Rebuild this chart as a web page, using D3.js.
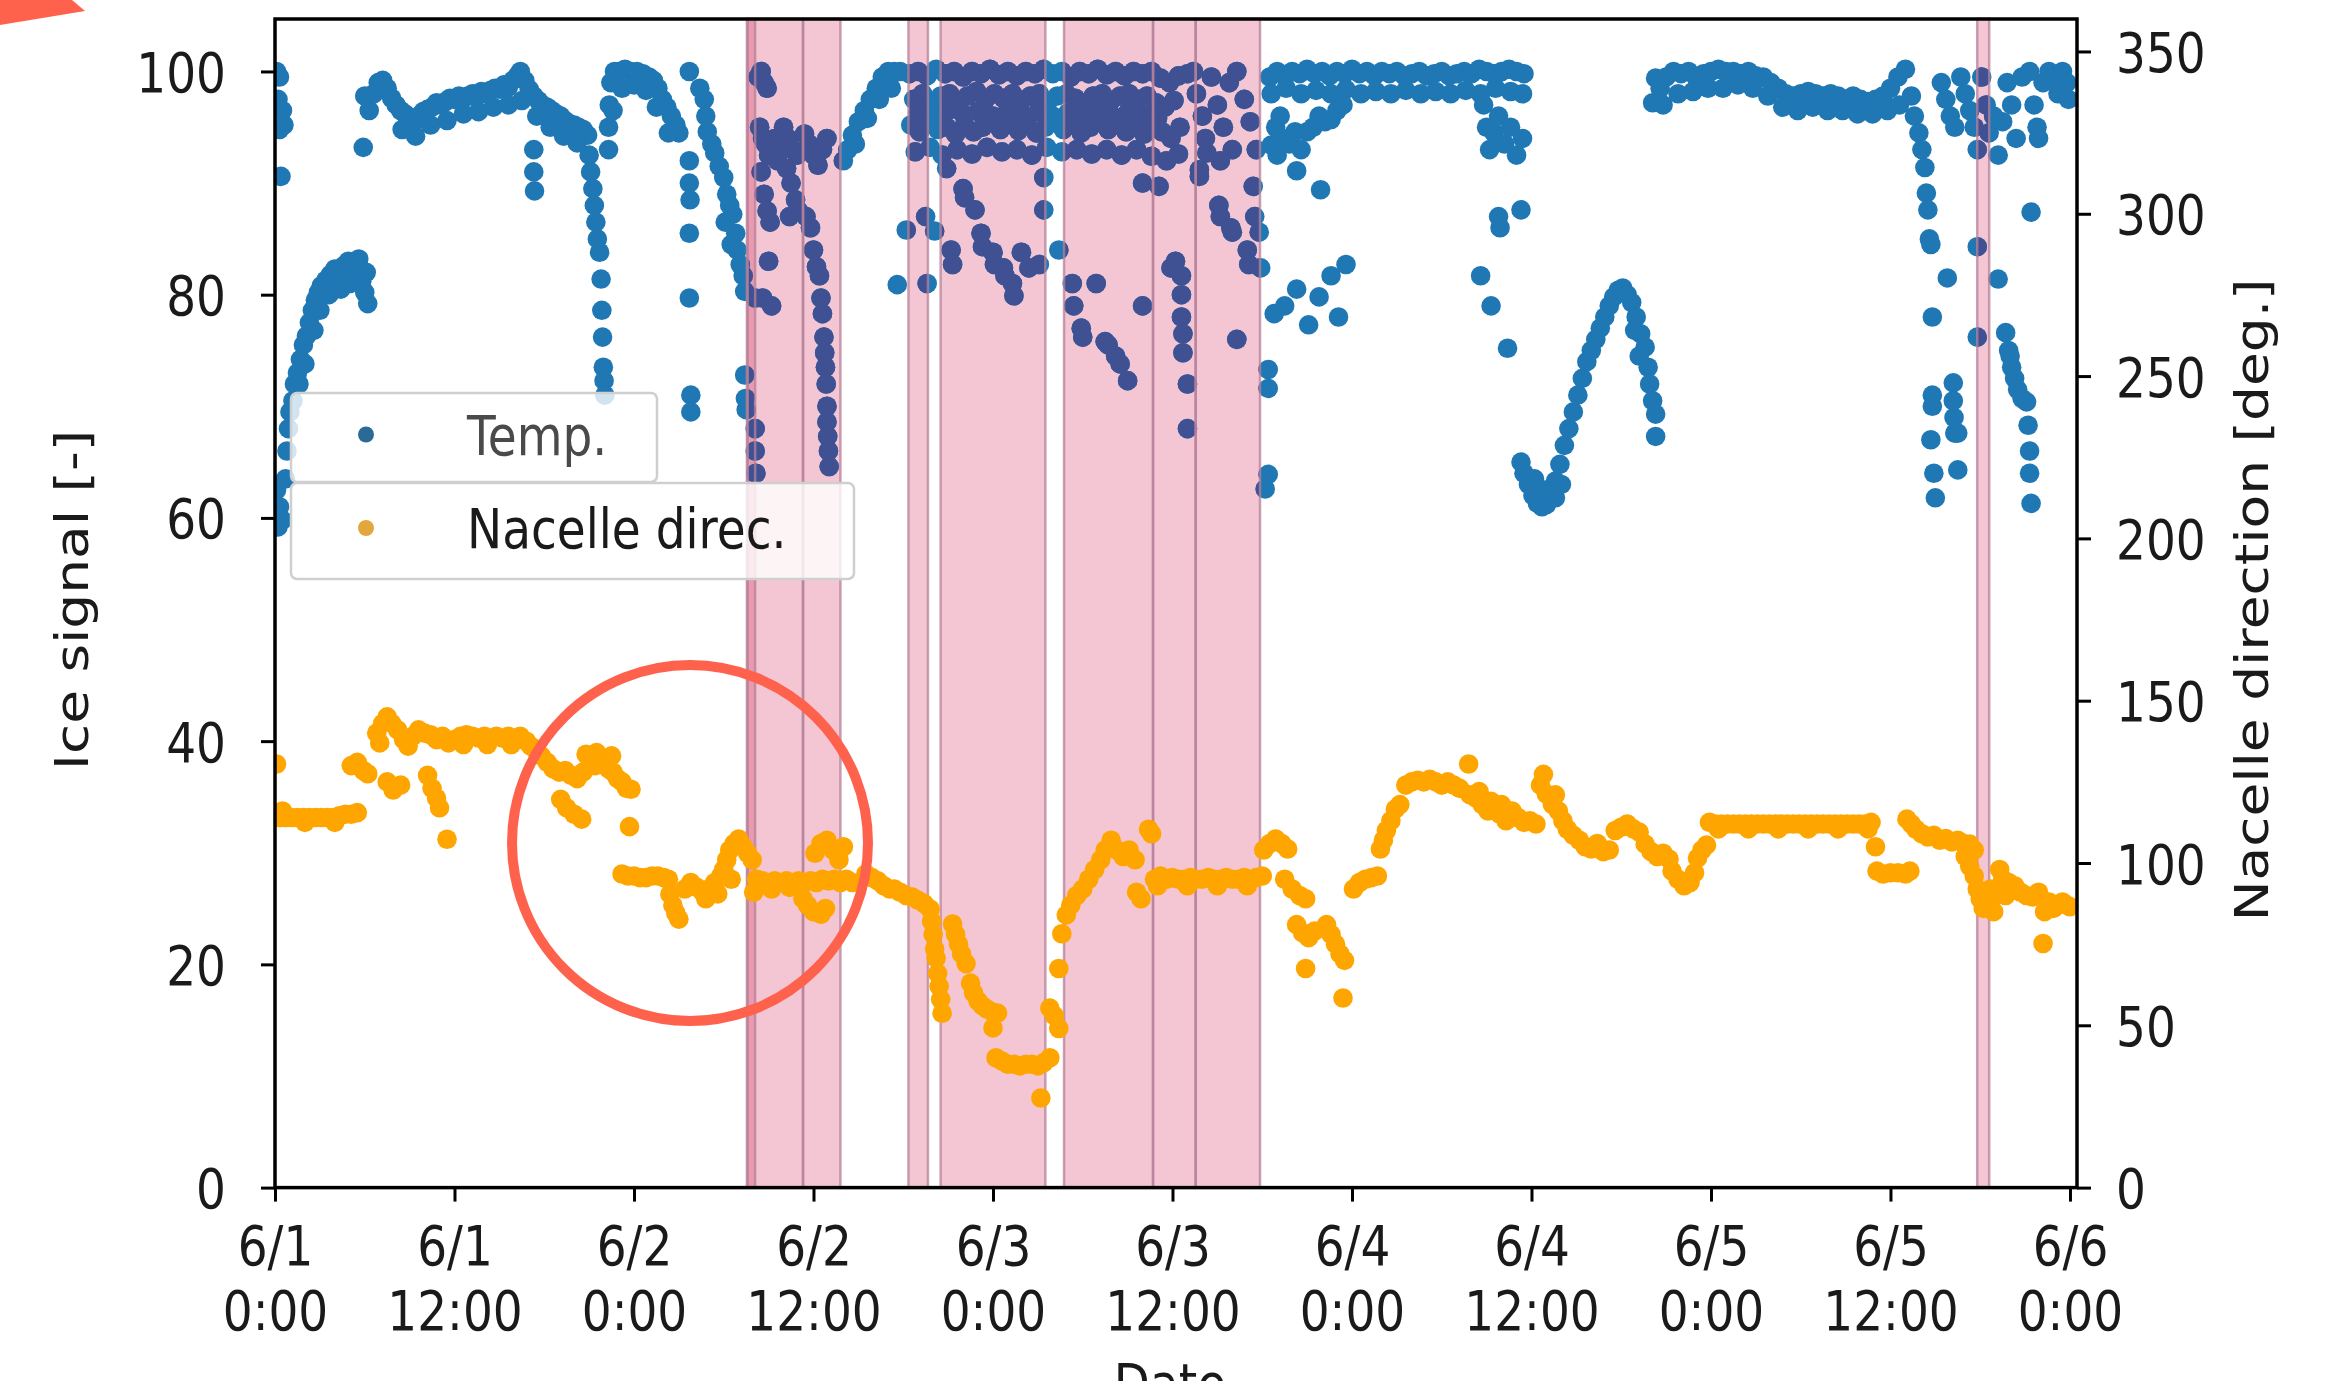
<!DOCTYPE html>
<meta charset="UTF-8">
<style>
body { margin: 0; background: #fff; }
svg { display: block; }
text { font-family: "DejaVu Sans", sans-serif; fill: #1a1a1a; }
</style>
<body>
<script src="https://cdnjs.cloudflare.com/ajax/libs/d3/7.8.5/d3.min.js"></script>
<script>
// all times are hours after 6/1 0:00
// Temp. (left axis, ice signal)
const tempPts = [
  [0.1,100],[0.3,99.5],[0.2,97.5],[0.5,96.5],[0.6,95.2],[0.3,94.8],[0.4,90.6],[0.1,62.5],[0.3,61],[0.2,59.2],[0.5,59.8],
  [0.7,63.5],[0.8,66],[0.9,68],[1.0,69.5],[1.2,70.5],[1.3,72],[1.5,73],[1.7,74.2],[1.9,75.5],[2.1,76.3],[2.3,77.5],[2.5,78.6],
  [2.7,79.5],[2.9,80.2],[3.1,80.8],[3.4,81.3],[3.7,81.8],[4.0,82.3],[4.3,81.6],[4.6,82.6],[4.9,83],[5.2,82.8],[5.5,82],[5.8,81.2],
  [6.0,80.2],[6.2,79.2],[1.6,72],[2.0,73.8],[2.6,76.8],[3.0,78.6],[3.6,80],[4.4,80.5],[5.0,81],[5.6,83.2],[6.1,82],
  [6.0,97.8],[5.9,93.2],[6.3,96.5],[6.6,98],[6.9,99],[7.2,99.2],[7.5,98.5],[7.8,97.6],[8.1,97],[8.4,96.5],[8.7,96.2],[9.0,95.8],
  [9.3,95.5],[9.6,96],[9.9,96.4],[10.2,96.6],[10.5,96.8],[10.8,97.2],[11.1,97],[11.4,97.3],[11.7,97.6],[12.0,97.5],[12.3,97.8],
  [12.6,97.6],[12.9,97.8],[13.2,98],[13.5,97.8],[13.8,98.2],[14.1,98],[14.4,98.3],[14.7,98.5],[15.0,98.4],[15.3,98.8],[15.6,98.6],
  [15.9,99.2],[16.2,99.6],[16.4,100],[16.7,99.2],[17.0,98.4],[17.3,97.8],[17.6,97.4],[17.9,97],[18.2,96.8],[18.5,96.5],[18.8,96.2],
  [19.1,96],[19.4,95.6],[19.7,95.3],[20.0,95.2],[20.3,95],[20.6,94.8],[20.9,94.3],
  [8.5,94.8],[9.4,94.2],[10.4,95.2],[11.5,95.6],[12.6,96.2],[13.6,96.4],[14.6,96.8],[15.6,97],[16.5,97.4],[17.5,96],[18.4,95],
  [19.3,94.2],[20.2,93.6],[17.3,93],[17.3,91],[17.35,89.3],
  [21.0,92.5],[21.1,91],[21.25,89.5],[21.35,88],[21.45,86.5],[21.55,85],[21.7,83.8],[21.8,81.4],[21.85,78.6],[21.9,76.2],
  [21.95,73.5],[22.0,72.3],[22.05,71],
  [22.3,93],[22.3,95],[22.35,97],[22.45,99],[22.7,100],[23.0,100],[23.4,100.2],[23.8,100],[24.2,100],[24.6,99.8],[25.0,99.5],
  [25.3,99.2],[25.6,98.5],[25.9,97.5],[26.2,96.8],[26.5,96],[26.8,95.2],[27.0,94.5],[22.6,96.5],[23.2,98.5],[24.0,98.8],
  [24.8,98.3],[25.5,96.8],[26.3,94.5],
  [27.7,100],[27.7,92],[27.7,90],[27.75,88.5],[27.7,85.5],[27.7,79.7],[27.8,71],[27.8,69.5],
  [28.4,98.5],[28.7,97.5],[28.8,96],[28.9,94.6],[29.2,93.5],[29.4,92.7],[29.7,91.5],[30.0,90.5],[30.2,89],[30.4,88],[30.6,87.2],
  [30.8,85.5],[30.9,84],[31.1,82.7],[31.3,81.7],[31.4,80.3],[31.4,72.8],[31.45,70.7],[31.5,69.7],[30.1,86.5],[30.5,84.5],
  [32.1,68],[32.1,66],[32.15,64],[32.1,79.7],[32.3,99.5],[32.5,100],[32.7,99],[32.9,98.5],[32.4,95],[32.6,94],[32.8,93.5],
  [33.0,92.5],[33.2,93],[33.4,94],[33.6,92],[33.8,93.5],[32.5,91],[32.7,89],[32.9,87.5],[33.1,86.5],[33.0,83],[32.6,79.7],
  [33.2,79],[34.0,95],[34.3,94],[34.6,93],[34.9,92.5],[34.2,91.3],[34.5,90],[34.8,88.5],[35.0,87.5],[34.4,87],
  [35.4,94.4],[35.7,93.5],[36.0,92.5],[36.3,91.6],[36.6,93],[36.9,94],[35.5,87],[35.8,86],[36.0,84],[36.2,82.5],[36.4,81.7],
  [36.5,79.7],[36.6,78.3],[36.7,76.2],[36.75,74.8],[36.8,73.5],[36.85,72],[36.9,70],[36.9,68.6],[36.95,67.3],[37.0,66],[37.05,64.6],
  [38.0,92],[38.3,93],[38.6,94.3],[39.0,95.5],[39.4,96.5],[39.8,97.5],[40.2,98.5],[40.6,99.5],[41.0,100],[41.4,100],[41.8,100],
  [38.8,93.5],[39.6,95.8],[40.4,97.5],[41.2,98.5],[41.6,80.9],[42.2,85.8],[43.6,81],
  [42.4,99.8],[43.0,100],[43.6,99.6],[44.2,100.2],[44.8,99.8],[45.4,100],[46.0,99.5],[46.6,100],[47.2,99.8],[47.8,100.2],
  [48.4,99.7],[49.0,100],[49.6,99.6],[50.2,100],[50.8,99.8],[51.4,100.2],[52.0,99.8],[52.6,100],[53.2,99.5],[53.8,100],
  [54.4,99.8],[55.0,100.2],[55.6,99.7],[56.2,100],[56.8,99.6],[57.4,100],[58.0,99.8],[58.6,100],[59.2,99.4],[59.8,99],
  [60.4,99.6],[61.0,99.8],
  [42.7,97.5],[43.3,98],[43.9,97.2],[44.5,97.8],[45.1,98],[45.7,97.4],[46.3,97.8],[46.9,98.2],[47.5,97.5],[48.1,98],[48.7,97.6],
  [49.3,98],[49.9,97.4],[50.5,97.8],[51.1,98],[51.7,97.3],[52.3,97.8],[52.9,98],[53.5,97.6],[54.1,97.2],[54.7,97.8],[55.3,98],
  [55.9,97.4],[56.5,97.8],[57.1,98],[57.7,97.5],[58.3,97.8],[58.9,97.2],[59.5,96.8],[60.1,97.4],
  [43.0,96.3],[44.0,96],[45.0,96.5],[46.0,96.2],[47.0,96.4],[48.0,96],[49.0,96.5],[50.0,96.1],[51.0,96.4],[52.0,96],
  [53.0,96.3],[54.0,96.1],[55.0,96.5],[56.0,96],[57.0,96.3],[58.0,96.1],[59.0,95.8],
  [42.5,95.2],[43.1,94.6],[43.7,95.4],[44.3,94.8],[44.9,95],[45.5,94.4],[46.1,95.2],[46.7,94.6],[47.3,95],[47.9,95.5],[48.5,94.8],
  [49.1,95.3],[49.7,94.7],[50.3,95.2],[50.9,94.5],[51.5,95],[52.1,95.4],[52.7,94.8],[53.3,95.2],[53.9,94.5],[54.5,95],[55.1,95.5],
  [55.7,94.8],[56.3,95.2],[56.9,94.6],[57.5,95],[58.1,94.4],[58.7,95],[59.3,94.6],[59.9,94],[60.5,95],
  [42.8,92.8],[43.8,93.2],[44.6,92.5],[45.6,93],[46.6,92.6],[47.6,93.2],[48.6,92.8],[49.6,93],[50.6,92.5],[51.6,93.2],[52.6,92.8],
  [53.6,93],[54.6,92.6],[55.6,93],[56.6,92.5],[57.6,93],[58.6,92.4],[59.6,92],[60.4,92.6],
  [43.5,87],[44.1,85.7],[44.9,91.3],[45.2,84],[45.3,82.7],[46.0,89.5],[46.1,88.7],[46.8,87.6],[47.2,85.5],[47.3,84.3],[48.0,83.8],
  [48.1,82.7],[48.7,82.4],[48.8,81.7],[49.3,81],[49.4,79.9],[49.9,83.8],[50.4,82.4],[51.1,82.7],[51.4,87.6],[51.4,90.5],[52.4,84],
  [53.3,81],[53.4,79],[53.9,77],[54.0,76.2],[54.9,81],[55.5,75.8],[55.7,75.5],[56.2,74.5],[56.5,73.8],[57.0,72.3],[58.0,79],
  [58.0,90],[59.1,89.7],[59.9,82.4],[60.2,83],[60.6,81.7],[60.6,80],[60.6,78],[60.7,76.5],[60.7,74.8],[61.0,72],[61.0,68],
  [61.4,100],[61.6,98],[62.0,96],[62.2,94],[62.3,92.7],[61.8,91.2],[61.8,90.6],[62.6,99.5],[63.0,97],[63.4,95],[63.2,92],
  [63.1,88],[63.2,87],[63.8,99],[64.0,93],[63.9,86],[64.0,85.6],[64.3,76],[64.3,100],[64.8,97.5],[65.2,95.5],[65.6,93],
  [65.0,84],[65.1,82.7],[65.4,89.7],[65.5,87],[65.8,85.6],[65.9,82.4],[66.4,73.3],[66.4,71.6],[66.4,63.9],[66.2,62.6],
  [66.5,99.5],[67.0,100],[67.5,99.6],[68.0,100],[68.5,99.8],[69.0,100.2],[69.5,99.8],[70.0,100],[70.5,99.6],[71.0,100],
  [71.5,99.8],[72.0,100.2],[72.5,99.8],[73.0,100],[73.5,99.6],[74.0,100],[74.5,99.8],[75.0,100],[75.5,99.6],[76.0,99.8],
  [76.5,100],[77.0,99.6],[77.5,99.8],[78.0,100],[78.5,99.6],[79.0,99.8],[79.5,100],[80.0,99.8],[80.5,100.2],[81.0,100],
  [81.5,99.8],[82.0,100],[82.5,100.2],[83.0,100],[83.5,99.8],
  [66.6,98],[67.6,98.5],[68.6,98],[69.6,98.3],[70.6,98],[71.6,98.4],[72.6,98],[73.6,98.2],[74.6,98],[75.6,98.3],[76.6,98],
  [77.6,98.2],[78.6,98],[79.6,98.3],[80.6,98],[81.6,98.5],[82.6,98.2],[83.4,98],
  [66.6,93.4],[67.0,92.5],[67.4,94],[67.8,93.5],[68.2,94.6],[68.6,93],[69.0,94.6],[69.4,95],[69.8,96],[70.2,95.5],[70.6,95.7],
  [71.0,96.5],[71.4,97],[68.3,91.1],[69.9,89.4],[67.2,96],[66.9,95],
  [66.8,78.3],[67.5,79],[68.3,80.5],[69.1,77.3],[69.8,79.8],[70.6,81.7],[71.1,78],[71.6,82.7],
  [80.8,97],[81.0,95],[81.2,93],[81.5,94.5],[81.8,96],[82.2,93.5],[82.6,95],[83.0,92.5],[83.4,94],[81.8,87],[81.9,86],[83.3,87.6],
  [80.6,81.7],[81.3,79],[82.4,75.2],
  [83.3,65],[83.5,64],[83.8,63],[84.1,62],[84.4,61.3],[84.7,61],[85.0,61.2],[85.3,62],[85.6,63.3],[85.9,64.8],[86.2,66.5],
  [86.5,68],[86.8,69.5],[87.1,71],[87.4,72.5],[87.7,74],[88.0,75],[88.3,76],[88.6,77],[88.9,78],[89.2,79],[89.5,79.8],
  [89.8,80.4],[90.1,80.6],[90.4,80],[90.7,79.3],[91.0,78],[91.3,76.5],[91.6,75.3],[91.8,73.5],[91.9,72],[92.1,70.5],[92.3,69.3],
  [92.3,67.3],[84.2,63.5],[84.9,62.5],[85.6,61.8],[86.0,63],[90.9,76.8],[91.2,74.5],
  [92.1,97.2],[92.3,99.4],[92.6,98.5],[93.0,99.5],[93.5,100],[94.0,99.8],[94.5,100],[95.0,99.5],[95.5,99.8],[96.0,100],
  [96.5,100.2],[97.0,100],[97.5,100],[98.0,99.8],[98.5,100],[99.0,99.6],[99.5,99.5],[100.0,99],[100.5,98.5],[101.0,98],
  [101.5,97.8],[102.0,98],[102.5,98.2],[103.0,98],[103.5,97.8],[104.0,98],[104.5,97.8],[105.0,97.5],[105.5,97.8],[106.0,97.5],
  [106.5,97.3],[107.0,97.5],[107.5,97.8],[108.0,98.5],[108.5,99.5],[109.0,100.2],
  [92.8,97],[93.8,98],[94.8,98.2],[95.8,98.5],[96.8,98.5],[97.8,98.8],[98.8,98.5],[99.8,97.8],[100.8,96.8],[101.8,96.5],
  [102.8,96.8],[103.8,96.5],[104.8,96.5],[105.8,96.2],[106.8,96.2],[107.8,96.5],[108.6,97],
  [109.4,97.8],[109.6,96],[109.9,94.5],[110.1,93],[110.3,91.4],[110.4,89.1],[110.5,87.6],[110.6,85],[110.7,84.5],[111.8,81.5],
  [110.8,78],[110.8,71],[110.8,70],[112.2,72.1],[112.2,70.5],[112.25,69],[112.3,67.6],[112.5,67.6],[112.5,64.3],[111.0,61.8],
  [110.9,64],[110.7,67],
  [111.4,99],[111.7,97.5],[112.0,96],[112.3,95],[112.7,99.5],[113.0,98],[113.3,96.5],[113.6,95],[113.8,93],[114.1,99.5],
  [114.4,97],[114.6,94.5],[114.9,96],[115.2,92.5],[115.5,95.5],[115.8,99],[116.1,97],[116.4,94],[116.8,99.5],[117.3,100],
  [117.6,97],[117.8,95],[117.9,94],[118.2,99],[118.6,100],[118.9,99.5],[119.2,98],[119.5,100],[119.8,99],[119.9,97.5],
  [113.8,84.3],[113.8,76.2],[115.2,81.4],[115.7,76.6],[115.9,75],[116.1,73.5],[116.3,72.5],[116.5,71.5],[116.8,70.7],
  [117.1,70.4],[117.2,68.3],[117.3,66],[117.3,64],[117.4,61.3],[117.4,87.4],[116.0,74.5]
];

// Nacelle direc. (right axis, degrees)
const nacellePts = [
  [0.1,130.5],[0.3,114],[0.7,114],[1.1,114],[1.5,114],[1.9,114],[2.3,114],[2.7,114],[3.1,114],[3.5,114],[3.9,114],[4.3,114.5],
  [4.7,115],[5.1,115],[5.5,115.5],[0.5,116],[2.0,112.5],[4.0,112.5],
  [5.1,130],[5.5,131],[5.9,128.5],[6.2,127.5],
  [6.8,140],[7.2,143],[7.5,145],[7.8,143],[8.2,141],[8.6,138],[8.9,136],[7.0,137],[7.5,125],[7.9,122.5],[8.4,124],
  [9.2,139],[9.6,141],[10.0,140],[10.4,139.5],[10.8,138],[11.2,139],[11.6,137],[12.0,138],[10.2,127],[10.5,123],[10.8,120],
  [11.0,117],[11.5,107.3],
  [12.4,139],[12.8,139.5],[13.2,139],[13.6,138.5],[14.0,139],[14.4,138.5],[14.8,139],[15.2,138.5],[15.6,139],[16.0,138.5],
  [16.4,139],[16.8,137.5],[17.1,136],[12.6,136.5],[14.2,136.5],[15.8,136.5],
  [17.4,135],[17.8,133],[18.2,131],[18.6,129],[19.0,128],[19.4,128.5],[19.8,127],[20.2,126],[20.6,128],[19.1,119.6],[19.5,117],
  [20.0,115],[20.5,113.5],
  [20.8,133.5],[21.1,131],[21.4,130],[21.7,132],[22.0,131],[22.3,129],[22.6,128],[22.9,126],[23.2,125],[23.5,123],[23.8,122.7],
  [21.5,134],[22.5,133],[23.7,111.2],
  [23.2,96.6],[23.6,96],[24.0,96],[24.4,95.5],[24.8,95.5],[25.2,96],[25.6,96],[26.0,95.5],[26.3,95],[26.4,90.4],[26.6,87],
  [26.8,84.5],[27.0,82.7],[27.4,92],[27.8,94],[28.2,92.5],[28.6,91],[29.0,92],[29.4,94],[29.8,96],[30.0,98],[30.2,101],
  [30.4,104],[30.7,106],[31.0,107.4],[31.3,105],[31.6,103],[31.9,101],[28.8,89],[29.6,90.5],[30.5,95],
  [32.2,95],[32.6,94.5],[33.0,94],[33.4,94.5],[33.8,94],[34.2,94.5],[34.6,94],[35.0,94.5],[35.4,94],[35.8,94.5],[36.2,94],
  [36.6,95],[37.0,94.5],[37.4,95],[37.8,94],[38.2,95],[38.6,94],[32.0,91],[33.2,92],[34.4,92.5],[35.3,89],[35.6,87],[36.0,85],
  [36.5,84.2],[36.8,86],[36.1,103],[36.5,106],[36.9,107],[37.3,104],[37.7,101],[38.0,105],
  [39.5,96.6],[39.9,95.5],[40.3,94.5],[40.7,93],[41.1,92],[41.4,92],[41.8,91],[42.2,90],[42.6,89.5],[43.0,88.5],[43.4,87.5],
  [43.8,85.8],[43.9,82],[44.0,78],[44.1,73.5],[44.2,70.7],[44.3,66],[44.4,62],[44.5,58],[44.6,53.7],
  [45.3,81.2],[45.5,78],[45.7,75],[45.9,72],[46.2,69],[46.5,63],[46.7,60],[47.0,57.5],[47.3,56],[47.6,55],[48.0,54],[48.3,53.8],
  [48.0,49.2],[48.2,40],[48.6,39],[49.0,38],[49.4,38],[49.8,37.5],[50.2,38],[50.6,38],[51.0,37.5],[51.4,38.5],[51.8,40],
  [51.2,27.6],[51.8,55.3],[52.1,53],[52.4,49],[52.4,67.5],[52.6,78.2],
  [52.9,84],[53.2,87],[53.6,90],[54.0,92],[54.4,95],[54.8,98],[55.2,101],[55.5,104],[55.9,107],[56.3,104],[56.7,102],[57.1,104],
  [57.5,101],[57.6,91],[57.9,89],[58.4,110.4],[58.6,109],
  [58.8,95],[59.2,96],[59.6,95],[60.0,95.5],[60.4,95],[60.8,95],[61.2,95.5],[61.6,95],[62.0,95],[62.4,95.5],[62.8,95],[63.2,95],
  [63.6,95.5],[64.0,95],[64.4,95],[64.8,95.5],[65.2,95],[65.6,95.5],[66.0,96],[59.0,93],[61.0,93],[63.0,93],[65.0,93],
  [66.1,104],[66.5,106],[66.9,107.4],[67.3,106],[67.7,104.3],[67.5,95],[68.0,92],[68.5,90],[68.9,89],[68.3,81],[68.7,78.5],
  [69.1,77],[69.5,79],[68.9,67.5],[70.3,81],[70.6,78],[70.9,75],[71.2,72],[71.5,70],[71.4,58.4],[72.1,92],[72.5,94],[72.9,95],
  [73.3,95.5],[73.7,96],[73.9,104.3],[74.1,107],[74.3,110],[74.6,113],[74.9,116.6],[75.2,118],
  [75.6,124],[76.0,125],[76.4,125.5],[76.8,125],[77.2,125.8],[77.6,125],[78.0,124],[78.4,125],[78.8,124],[79.2,123],[79.8,130.5],
  [79.9,121],[80.3,120],[80.7,118],[81.1,116],[81.5,117],[81.9,115],[82.3,113],[82.7,116],[83.1,114],[83.5,112.5],[83.9,113],
  [84.3,112],[80.5,122],[81.3,119],[82.0,118],
  [84.8,127.3],[84.6,124],[85.0,121.2],[85.4,118],[85.6,121],[85.8,116],[86.1,113],[86.4,110.4],[86.8,108.5],[87.2,107],
  [87.6,105],[88.0,104.3],[88.4,106],[88.8,103.5],[89.2,104],[89.6,110],[90.0,111],[90.4,112],[90.8,110.5],[91.2,109.5],
  [91.6,105.8],[92.0,103.5],[92.4,102],[92.8,103],[93.2,101.2],[93.4,97.5],[93.8,95],[94.2,93],[94.6,94],[94.9,97],[95.1,101.5],
  [95.4,104],[95.7,105.5],
  [95.9,112.5],[96.3,112],[96.7,112],[97.1,112],[97.5,112],[97.9,112],[98.3,112],[98.7,112],[99.1,112],[99.5,112],[99.9,112],
  [100.3,112],[100.7,112],[101.1,112],[101.5,112],[101.9,112],[102.3,112],[102.7,112],[103.1,112],[103.5,112],[103.9,112],
  [104.3,112],[104.7,112],[105.1,112],[105.5,112],[105.9,112],[106.3,112],[106.7,112.5],[96.5,110.5],[98.5,110.5],
  [100.5,110.5],[102.5,110.5],[104.5,110.5],[106.5,110.5],
  [107.0,105],[107.1,97.5],[107.5,96.6],[108.0,97],[108.5,97],[109.0,96.6],[109.3,97.5],
  [109.1,113.5],[109.4,112],[109.7,110.4],[110.1,109],[110.5,108],[110.9,108.5],[111.3,107],[111.7,107.5],[112.1,106.5],
  [112.5,107],[112.9,106],[113.3,105.8],[113.6,104],
  [113.0,102],[113.3,99],[113.6,96],[113.8,92],[114.0,89],[114.2,86],[114.4,87],[114.7,92],[115.0,90],[115.3,98],[115.5,95],
  [115.7,90],[114.9,85],
  [115.9,94],[116.3,93],[116.7,91],[117.1,90],[117.5,89.5],[117.9,91],[118.2,75.2],[118.3,85],[118.6,88],[118.9,86],[119.2,87],
  [119.5,88],[119.8,87],[120.0,86.5]
];

// shaded alarm periods [start, end] in hours
const alarmSpans = [
  [31.55,32.1],[31.6,35.3],[35.3,37.8],[42.35,43.65],[44.5,51.5],[52.75,58.7],[58.7,61.55],[61.55,65.85],[113.8,114.6]
];

const xTickHours = [0,12,24,36,48,60,72,84,96,108,120];
const leftTicks = [0,20,40,60,80,100];
const rightTicks = [0,50,100,150,200,250,300,350];

const W = 2326, H = 1381;
const plot = {left: 275, right: 2077, top: 19, bottom: 1187.6};
const FS = 47, SY = 1.17;     // tick font, vertical stretch of the original picture
const R = 9.8;

const t0 = new Date(2020, 5, 1, 0, 0);
const toDate = h => new Date(t0.getTime() + h * 36e5);

const x = d3.scaleTime().domain([t0, toDate(120.47)]).range([plot.left, plot.right]);
const yL = d3.scaleLinear().domain([0, 104.7]).range([plot.bottom, plot.top]);
const yR = d3.scaleLinear().domain([0, 360]).range([plot.bottom, plot.top]);

const svg = d3.select("body").append("svg")
    .attr("width", W).attr("height", H);

svg.append("rect").attr("width", W).attr("height", H).attr("fill", "#fff");

const defs = svg.append("defs");
defs.append("clipPath").attr("id", "clip")
  .append("rect")
    .attr("x", plot.left).attr("y", plot.top)
    .attr("width", plot.right - plot.left).attr("height", plot.bottom - plot.top);

const spanX = d => x(toDate(d[0]));
const spanW = d => x(toDate(d[1])) - x(toDate(d[0]));

// union of the shaded periods, used to tint the blue dots inside them
defs.append("clipPath").attr("id", "spanClip")
  .selectAll("rect")
  .data(alarmSpans)
  .join("rect")
    .attr("x", spanX).attr("width", spanW)
    .attr("y", plot.top).attr("height", plot.bottom - plot.top);

// shading fill
svg.append("g")
  .selectAll("rect")
  .data(alarmSpans)
  .join("rect")
    .attr("x", spanX).attr("width", spanW)
    .attr("y", plot.top).attr("height", plot.bottom - plot.top)
    .attr("fill", "#f4c6d3")
    .style("mix-blend-mode", "multiply");

function tempDots(g, color) {
  g.selectAll("circle")
    .data(tempPts)
    .join("circle")
      .attr("cx", d => x(toDate(d[0])))
      .attr("cy", d => yL(d[1]))
      .attr("r", R)
      .attr("fill", color);
}

tempDots(svg.append("g").attr("clip-path", "url(#clip)"), "#1f77b4");
tempDots(svg.append("g").attr("clip-path", "url(#spanClip)"), "#3f5193");

// shading edges
svg.append("g")
  .selectAll("rect")
  .data(alarmSpans)
  .join("rect")
    .attr("x", spanX).attr("width", spanW)
    .attr("y", plot.top).attr("height", plot.bottom - plot.top)
    .attr("fill", "none")
    .attr("stroke", "#b7809a")
    .attr("stroke-opacity", 0.75)
    .attr("stroke-width", 2.5);

// helper for stretched text
function stretchedText(parent, tx, ty, str, anchor, rot) {
  const g = parent.append("g")
      .attr("transform", rot
        ? `translate(${tx},${ty}) rotate(-90) scale(${SY},1)`
        : `translate(${tx},${ty}) scale(1,${SY})`);
  return g.append("text")
      .attr("text-anchor", anchor)
      .attr("font-size", FS)
      .text(str);
}

// legends
function legendBox(x0, y0, w, h, color, label, txtColor) {
  const g = svg.append("g");
  g.append("rect")
      .attr("x", x0).attr("y", y0).attr("width", w).attr("height", h)
      .attr("rx", 6)
      .attr("fill", "#fff").attr("fill-opacity", 0.8)
      .attr("stroke", "#cfcfcf").attr("stroke-width", 2.5);
  g.append("circle")
      .attr("cx", x0 + 75).attr("cy", y0 + h / 2 - 3)
      .attr("r", 8).attr("fill", color);
  stretchedText(g, x0 + 176, y0 + h / 2 + 17, label, "start").style("fill", txtColor);
}

legendBox(291, 393, 366, 89, "#2b6a94", "Temp.", "#4a4a4a");

// orange series on the twin axis
svg.append("g").attr("clip-path", "url(#clip)")
  .selectAll("circle")
  .data(nacellePts)
  .join("circle")
    .attr("cx", d => x(toDate(d[0])))
    .attr("cy", d => yR(d[1]))
    .attr("r", R)
    .attr("fill", "#ffa500");

// axes
const fmtDay = d3.timeFormat("%-m/%-d");
const fmtHour = d3.timeFormat("%-H:%M");

const xAxis = svg.append("g")
    .attr("transform", `translate(0,${plot.bottom})`)
    .call(d3.axisBottom(x).tickValues(xTickHours.map(toDate)).tickSize(14).tickSizeOuter(0).tickFormat(""));
xAxis.select(".domain").remove();
xAxis.selectAll(".tick text").remove();
xAxis.selectAll(".tick").each(function(d) {
  const t = d3.select(this);
  stretchedText(t, 0, 77.4, fmtDay(d), "middle");
  stretchedText(t, 0, 142.4, fmtHour(d), "middle");
});

const leftAxis = svg.append("g")
    .attr("transform", `translate(${plot.left},0)`)
    .call(d3.axisLeft(yL).tickValues(leftTicks).tickSize(14).tickSizeOuter(0).tickPadding(35));
leftAxis.select(".domain").remove();

const rightAxis = svg.append("g")
    .attr("transform", `translate(${plot.right},0)`)
    .call(d3.axisRight(yR).tickValues(rightTicks).tickSize(14).tickSizeOuter(0).tickPadding(25));
rightAxis.select(".domain").remove();

[leftAxis, rightAxis].forEach(a => {
  a.selectAll(".tick text")
      .attr("font-size", FS)
      .attr("font-family", null)
      .attr("dy", "0.3645em")
      .attr("transform", `scale(1,${SY})`)
      .style("fill", "#1a1a1a");
});
[xAxis, leftAxis, rightAxis].forEach(a => {
  a.selectAll(".tick line").attr("stroke", "#000").attr("stroke-width", 3);
});

svg.append("rect")
    .attr("x", plot.left).attr("y", plot.top)
    .attr("width", plot.right - plot.left).attr("height", plot.bottom - plot.top)
    .attr("fill", "none").attr("stroke", "#000").attr("stroke-width", 3.5);

// axis titles ("Date" is cut by the lower edge, as in the original)
stretchedText(svg, 88, 600, "Ice signal [-]", "middle", true);
stretchedText(svg, 2268, 600, "Nacelle direction [deg.]", "middle", true);
stretchedText(svg, 1170, 1403, "Date", "middle");

legendBox(291, 483, 563, 96, "#e2a83e", "Nacelle direc.", "#1a1a1a");

// red markup on top of the picture
svg.append("circle")
    .attr("cx", 690).attr("cy", 843).attr("r", 178)
    .attr("fill", "none").attr("stroke", "#ff624c").attr("stroke-width", 10);
svg.append("polygon")
    .attr("points", "0,0 72,0 85,11 0,25")
    .attr("fill", "#ff624c");
</script>
</body>
